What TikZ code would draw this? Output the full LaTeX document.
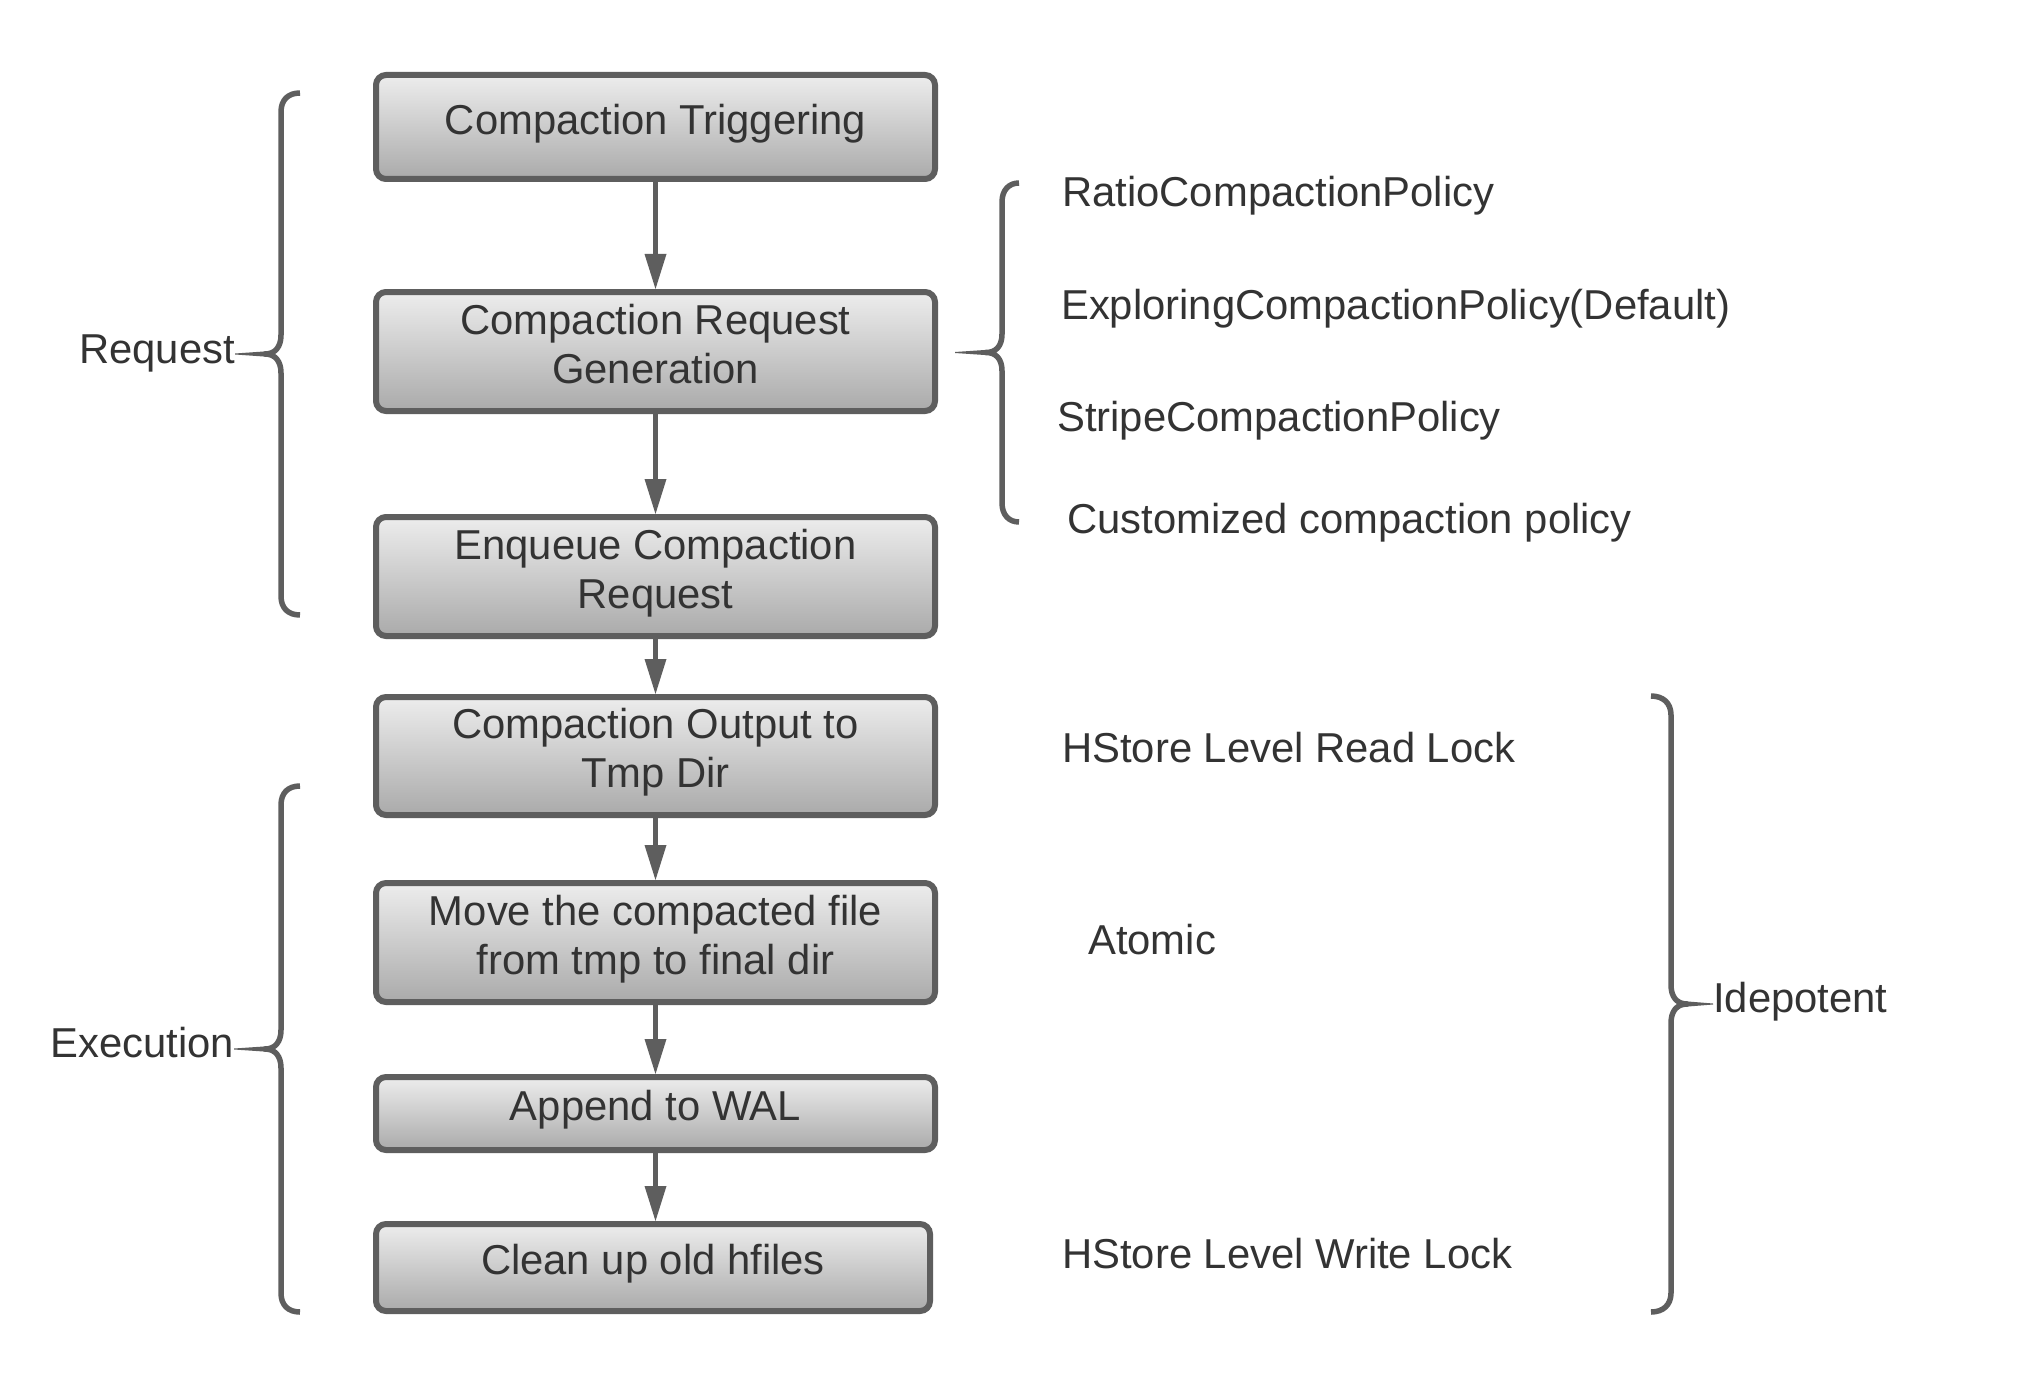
\documentclass[tikz,border=0pt]{standalone}
\usepackage{fontspec}
\setmainfont{Liberation Sans}
\usetikzlibrary{arrows.meta}
\definecolor{ln}{RGB}{94,94,94}
\definecolor{tx}{RGB}{51,51,51}
\definecolor{gtop}{RGB}{237,237,237}
\definecolor{gbot}{RGB}{170,170,170}
\begin{document}
\begin{tikzpicture}[x=1pt,y=-1pt,
  stepbox/.style={draw=ln, line width=6pt, rounded corners=10pt, top color=gtop, bottom color=gbot,
    text=tx, align=center, inner sep=0pt, minimum width=559pt,
    font=\fontsize{41.8}{49}\selectfont, text depth=15.5pt},
  flow/.style={draw=ln, line width=5pt, -{Triangle[length=35pt,width=22pt,line width=0pt]}},
  brace/.style={draw=ln, line width=5.5pt, line join=round},
  wedge/.style={fill=ln},
  lbl/.style={text=tx, inner sep=0pt, font=\fontsize{41.8}{49}\selectfont}]
\useasboundingbox[fill=white] (0,0) rectangle (2025,1388);

% boxes
\node[stepbox, minimum height=104pt] (b1) at (655.5,127) {Compaction Triggering};
\node[stepbox, minimum height=119pt] (b2) at (655.5,351.5) {Compaction Request\\Generation};
\node[stepbox, minimum height=119pt] (b3) at (655.5,576.5) {Enqueue Compaction\\Request};
\node[stepbox, minimum height=118pt] (b4) at (655.5,756) {Compaction Output to\\Tmp Dir};
\node[stepbox, minimum height=119pt] (b5) at (655.5,942.5) {Move the compacted file\\from tmp to final dir};
\node[stepbox, minimum height=73pt] (b6) at (655.5,1113.5) {Append to WAL};
\node[stepbox, minimum height=87pt, minimum width=554pt] (b7) at (653,1267.5) {Clean up old hfiles};

% arrows
\draw[flow] (b1.south) -- (b2.north);
\draw[flow] (b2.south) -- (b3.north);
\draw[flow] (b3.south) -- (b4.north);
\draw[flow] (b4.south) -- (b5.north);
\draw[flow] (b5.south) -- (b6.north);
\draw[flow] (b6.south) -- (b6.south |- b7.north);

% labels
\node[lbl, anchor=base east] (req) at (235,363) {Request};
\node[lbl, anchor=base east] (exe) at (234,1057) {Execution};
\node[lbl, anchor=base west] (p1) at (1062,206.7) {RatioCompactionPolicy};
\node[lbl, anchor=base west] (p2) at (1061,319.6) {ExploringCompactionPolicy(Default)};
\node[lbl, anchor=base west] (p3) at (1057,431.5) {StripeCompactionPolicy};
\node[lbl, anchor=base west] (p4) at (1067,533.3) {Customized compaction policy};
\node[lbl, anchor=base west] (k1) at (1062,762.6) {HStore Level Read Lock};
\node[lbl, anchor=base west] (k2) at (1088,954.3) {Atomic};
\node[lbl, anchor=base west] (k3) at (1062,1268.5) {HStore Level Write Lock};
\node[lbl, anchor=base west] (idem) at (1713,1012.7) {Idepotent};

% Request brace
\coordinate (rq) at (265,354);
\coordinate (rqend) at (req.east |- rq);
\draw[brace] (300,93) .. controls (288,93) and (281,100) .. (281,112) -- (281,335)
  .. controls (281,347) and (275,354) .. (rq)
  .. controls (275,354) and (281,361) .. (281,373) -- (281,596)
  .. controls (281,608) and (288,615) .. (300,615);
\fill[wedge] ([yshift=2.6pt]rq) -- ([yshift=0.5pt]rqend) -- ([yshift=-0.5pt]rqend) -- ([yshift=-2.6pt]rq) -- cycle;

% Execution brace
\coordinate (ex) at (265,1049);
\coordinate (exend) at (exe.east |- ex);
\draw[brace] (300,786) .. controls (288,786) and (281,793) .. (281,805) -- (281,1030)
  .. controls (281,1042) and (275,1049) .. (ex)
  .. controls (275,1049) and (281,1056) .. (281,1068) -- (281,1293)
  .. controls (281,1305) and (288,1312) .. (300,1312);
\fill[wedge] ([yshift=2.6pt]ex) -- ([yshift=0.5pt]exend) -- ([yshift=-0.5pt]exend) -- ([yshift=-2.6pt]ex) -- cycle;

% Policy brace
\coordinate (pb) at (986,352.5);
\coordinate (pt) at (955,352.5);
\draw[brace] (1019,183) .. controls (1009,183) and (1002,190) .. (1002,202) -- (1002,334)
  .. controls (1002,346) and (996,352.5) .. (pb)
  .. controls (996,352.5) and (1002,359) .. (1002,371) -- (1002,503)
  .. controls (1002,515) and (1009,522) .. (1019,522);
\fill[wedge] ([yshift=2.6pt]pb) -- ([yshift=0.5pt]pt) -- ([yshift=-0.5pt]pt) -- ([yshift=-2.6pt]pb) -- cycle;

% Idempotent brace
\coordinate (ib) at (1687,1004);
\coordinate (ibend) at (idem.west |- ib);
\draw[brace] (1651,696) .. controls (1663,696) and (1671,703) .. (1671,715) -- (1671,985)
  .. controls (1671,997) and (1677,1004) .. (ib)
  .. controls (1677,1004) and (1671,1011) .. (1671,1023) -- (1671,1293)
  .. controls (1671,1305) and (1663,1312) .. (1651,1312);
\fill[wedge] ([yshift=2.6pt]ib) -- ([yshift=0.5pt]ibend) -- ([yshift=-0.5pt]ibend) -- ([yshift=-2.6pt]ib) -- cycle;
\end{tikzpicture}
\end{document}
